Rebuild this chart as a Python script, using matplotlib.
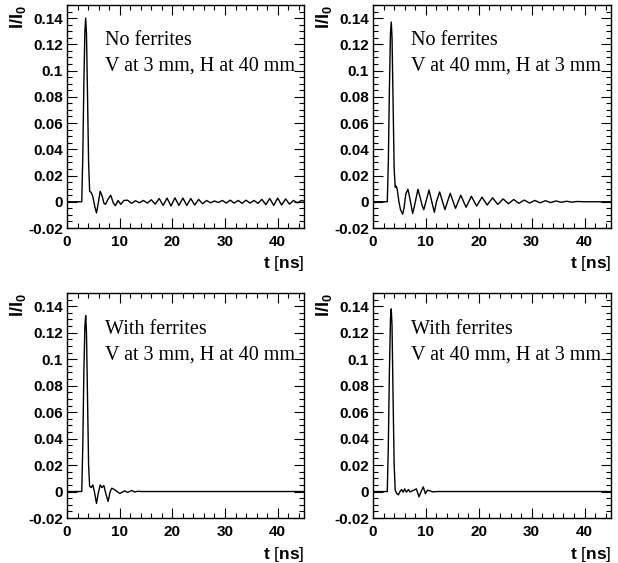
import numpy as np
import matplotlib
matplotlib.use('Agg')
import matplotlib.pyplot as plt
from matplotlib.ticker import MultipleLocator, FixedLocator, FixedFormatter

plt.rcParams['font.family'] = 'Liberation Sans'
plt.rcParams['axes.unicode_minus'] = False
plt.rcParams['mathtext.fontset'] = 'custom'
plt.rcParams['mathtext.rm'] = 'Liberation Sans'
plt.rcParams['mathtext.bf'] = 'Liberation Sans:bold'

# =========================
# Data
# =========================
# Panel 1: no ferrites, V at 3 mm, H at 40 mm
t_nf_v3 = [0, 2.8, 3.0, 3.2, 3.4, 3.55, 3.7, 3.9, 4.1, 4.3, 4.6, 4.9, 5.3, 5.6, 5.9,
           6.3, 6.7, 7.0, 7.3, 7.8, 8.3, 8.8, 9.2, 9.7, 10.2, 10.8,
           11.5, 12.25, 13.0, 13.75, 14.5, 15.25, 16.0, 16.75, 17.5, 18.25,
           19.0, 19.75, 20.5, 21.25, 22.0, 22.75, 23.5, 24.25, 25.0, 25.75,
           26.5, 27.25, 28.0, 28.75, 29.5, 30.25, 31.0, 31.75, 32.5, 33.25,
           34.0, 34.75, 35.5, 36.25, 37.0, 37.75, 38.5, 39.25, 40.0, 40.75,
           41.5, 42.25, 43.0, 43.75, 44.5, 45.0]
i_nf_v3 = [0, 0, 0.035, 0.09, 0.13, 0.14, 0.128, 0.08, 0.03, 0.008, 0.007, 0.004, -0.004, -0.0085, -0.002,
           0.008, 0.004, -0.001, -0.002, 0.002, 0.005, -0.001, -0.003, 0.001, -0.002, 0.001,
           0.0012, -0.0012, 0.0008, -0.0008, 0.001, -0.001, 0.0015, -0.0018, 0.0025, -0.0028,
           0.0028, -0.0032, 0.003, -0.0028, 0.0028, -0.0028, 0.0025, -0.0025, 0.0018, -0.0015,
           0.001, -0.0008, 0.0006, -0.0006, 0.001, -0.001, 0.0012, -0.001, 0.001, -0.0012,
           0.0012, -0.001, 0.001, -0.0012, 0.0018, -0.0022, 0.0025, -0.0028, 0.0028, -0.0025,
           0.0022, -0.0018, 0.001, -0.0008, 0.001, 0.0005]

# Panel 2: no ferrites, V at 40 mm, H at 3 mm
t_nf_v40 = [0, 2.7, 2.9, 3.1, 3.3, 3.45, 3.6, 3.8, 4.0, 4.2, 4.4, 4.6, 4.9, 5.2, 5.6, 5.9,
            6.2, 6.6, 7.0, 7.5, 7.9, 8.5, 9.0, 9.3, 9.6, 10.0, 10.6, 11.0, 11.6, 12.0,
            12.6, 13.6, 14.6, 15.6, 16.6, 17.6, 18.6, 19.6, 20.6, 21.6, 22.6, 23.6,
            24.6, 25.6, 26.6, 27.6, 28.6, 29.6, 30.6, 31.6, 32.6, 33.6, 34.6, 35.6,
            36.6, 37.6, 38.6, 40.0, 45.0]
i_nf_v40 = [0, 0, 0.03, 0.085, 0.128, 0.137, 0.125, 0.075, 0.025, 0.011, 0.012, 0.009, 0.0, -0.006, -0.0095, -0.004,
            0.006, 0.0095, 0.002, -0.009, -0.002, 0.0095, 0.002, -0.003, -0.006, 0.0, 0.009, 0.002, -0.008, 0.0,
            0.0075, -0.006, 0.0065, -0.005, 0.005, -0.0042, 0.0042, -0.0033, 0.0035, -0.0025, 0.003, -0.002,
            0.0022, -0.0015, 0.0017, -0.0012, 0.0013, -0.001, 0.001, -0.0008, 0.0008, -0.0006, 0.0006, -0.0004,
            0.0004, -0.0003, 0.0002, 0.0, 0.0]

# Panel 3: with ferrites, V at 3 mm, H at 40 mm
t_wf_v3 = [0, 2.8, 3.0, 3.2, 3.4, 3.55, 3.7, 3.9, 4.1, 4.3, 4.6, 4.9, 5.2, 5.6, 5.9,
           6.3, 6.6, 7.0, 7.4, 7.8, 8.2, 8.5, 9.0, 9.5, 10.0, 10.5, 11.0, 11.5,
           12.3, 12.8, 13.5, 14.0, 45.0]
i_wf_v3 = [0, 0, 0.035, 0.09, 0.125, 0.133, 0.12, 0.07, 0.02, 0.004, 0.003, 0.005, 0.0, -0.009, -0.002,
           0.005, 0.003, 0.0045, -0.002, -0.0075, 0.0, 0.0025, 0.0015, 0.0, -0.0015, -0.0005, 0.0005, -0.0007,
           0.0008, -0.0003, 0.0002, 0.0, 0.0]

# Panel 4: with ferrites, V at 40 mm, H at 3 mm
t_wf_v40 = [0, 2.7, 2.9, 3.1, 3.3, 3.45, 3.6, 3.8, 4.0, 4.2, 4.5, 4.8, 5.1, 5.4, 5.7,
            6.0, 6.3, 6.7, 7.0, 7.4, 7.8, 8.2, 8.7, 9.1, 9.5, 9.9, 10.3, 10.8,
            11.3, 12.0, 45.0]
i_wf_v40 = [0, 0, 0.035, 0.09, 0.13, 0.138, 0.125, 0.07, 0.02, 0.001, -0.0015, -0.0025, 0.0, 0.0015, -0.0005,
            0.002, -0.0005, 0.0015, -0.0003, 0.0005, 0.0012, 0.002, -0.004, 0.0, 0.0035, -0.0015, 0.001, 0.0005,
            -0.0003, 0.0, 0.0]

panel_t = [t_nf_v3, t_nf_v40, t_wf_v3, t_wf_v40]
panel_i = [i_nf_v3, i_nf_v40, i_wf_v3, i_wf_v40]
line1 = ['No ferrites', 'No ferrites', 'With ferrites', 'With ferrites']
line2 = ['V at 3 mm, H at 40 mm', 'V at 40 mm, H at 3 mm',
         'V at 3 mm, H at 40 mm', 'V at 40 mm, H at 3 mm']

xticks = [0, 10, 20, 30, 40]
xtick_labels = ['0', '10', '20', '30', '40']
yticks = [-0.02, 0, 0.02, 0.04, 0.06, 0.08, 0.1, 0.12, 0.14]
ytick_labels = ['-0.02', '0', '0.02', '0.04', '0.06', '0.08', '0.1', '0.12', '0.14']

# =========================
# Layout (pixel boxes of each frame)
# =========================
W, H = 618, 563
boxes = [(67, 5, 304, 228), (373, 5, 611, 228),
         (67, 293, 304, 518), (373, 293, 611, 518)]

fig = plt.figure(figsize=(W / 100, H / 100), dpi=100)

for k in range(4):
    x0, y0, x1, y1 = boxes[k]
    ax = fig.add_axes([x0 / W, 1 - y1 / H, (x1 - x0) / W, (y1 - y0) / H])
    ax.plot(panel_t[k], panel_i[k], color='black', lw=1.0)
    ax.set_xlim(0, 45)
    ax.set_ylim(-0.02, 0.15)

    ax.xaxis.set_major_locator(FixedLocator(xticks))
    ax.xaxis.set_major_formatter(FixedFormatter(xtick_labels))
    ax.xaxis.set_minor_locator(MultipleLocator(2))
    ax.yaxis.set_major_locator(FixedLocator(yticks))
    ax.yaxis.set_major_formatter(FixedFormatter(ytick_labels))
    ax.yaxis.set_minor_locator(MultipleLocator(0.005))

    ax.tick_params(which='both', direction='in', top=True, right=True, width=0.8)
    ax.tick_params(which='major', length=7)
    ax.tick_params(which='minor', length=3.5)
    ax.tick_params(axis='x', pad=5)
    ax.tick_params(axis='y', pad=3)
    for lab in ax.get_xticklabels() + ax.get_yticklabels():
        lab.set_fontweight('bold')
        lab.set_fontsize(11)
    for sp in ax.spines.values():
        sp.set_linewidth(1.0)

    ax.set_ylabel(r'$\mathbf{I/I_0}$', fontsize=13, loc='top', labelpad=0)
    ax.text(1.0, -0.16, r'$\mathbf{t}$ [$\mathbf{ns}$]', transform=ax.transAxes,
            ha='right', va='center', fontsize=12.5)

    ax.text(0.16, 0.82, line1[k], transform=ax.transAxes, ha='left', va='baseline',
            fontsize=14.5, family='Liberation Serif')
    ax.text(0.16, 0.705, line2[k], transform=ax.transAxes, ha='left', va='baseline',
            fontsize=14.5, family='Liberation Serif')

fig.savefig('out.png', dpi=100)
